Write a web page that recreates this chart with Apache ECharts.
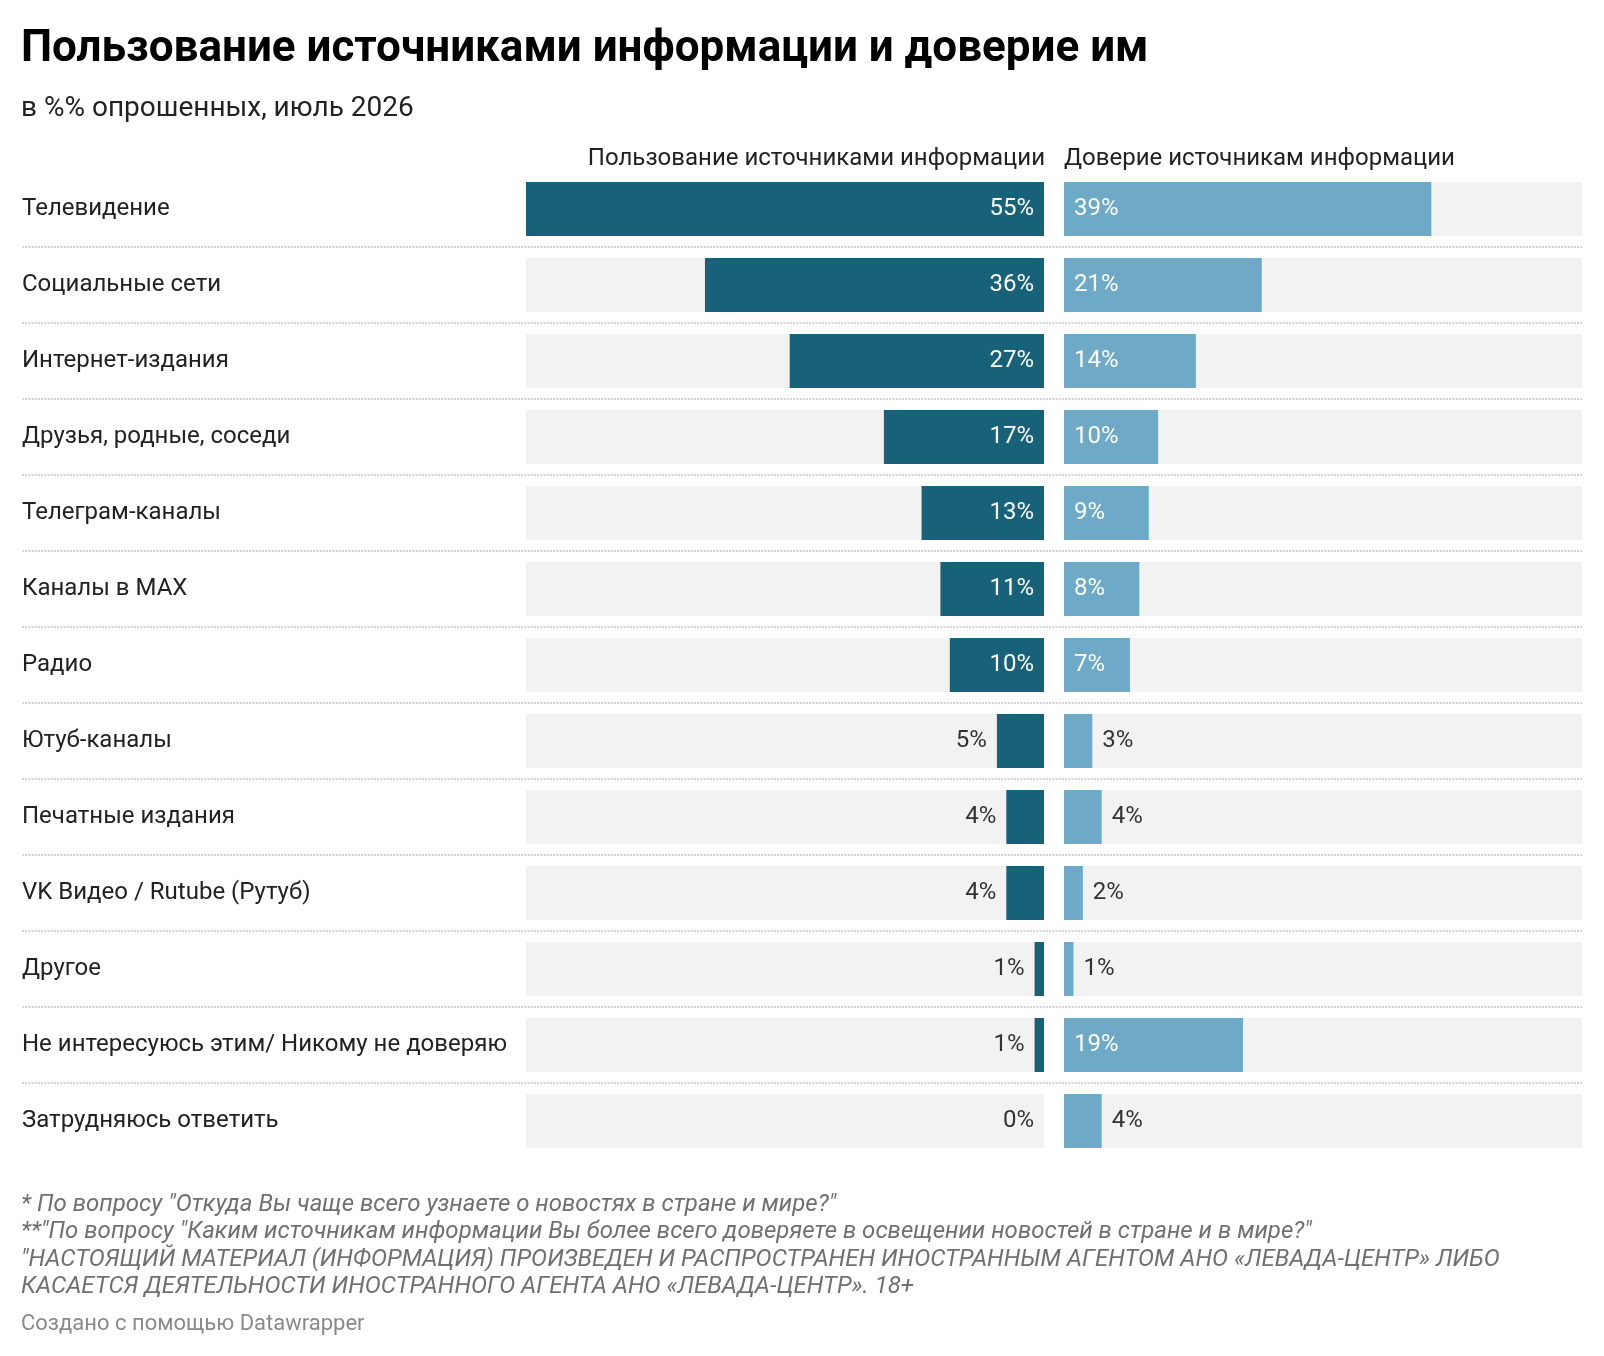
<!DOCTYPE html>
<html>
<head>
    <meta charset="utf-8">
    <title>ECharts</title>
    <script src="https://cdn.jsdelivr.net/npm/echarts@6.0.0/dist/echarts.min.js"></script>
    <style>
        html, body { margin: 0; padding: 0; background: #ffffff; }
    </style>
</head>
<body>
    <div id="main" style="width: 1604px;height:1356px;"></div>
    <script type="text/javascript">
        // категории и значения
        var categories = ['Телевидение', 'Социальные сети', 'Интернет-издания', 'Друзья, родные, соседи', 'Телеграм-каналы', 'Каналы в MAX', 'Радио', 'Ютуб-каналы', 'Печатные издания', 'VK Видео / Rutube (Рутуб)', 'Другое', 'Не интересуюсь этим/ Никому не доверяю', 'Затрудняюсь ответить'];
        var usage = [55, 36, 27, 17, 13, 11, 10, 5, 4, 4, 1, 1, 0];
        var trust = [39, 21, 14, 10, 9, 8, 7, 3, 4, 2, 1, 19, 4];
        var seriesNames = ['Пользование источниками информации', 'Доверие источникам информации'];
        var footnotes = [
            '* По вопросу "Откуда Вы чаще всего узнаете о новостях в стране и мире?"',
            '**"По вопросу "Каким источникам информации Вы более всего доверяете в освещении новостей в стране и в мире?"',
            '"НАСТОЯЩИЙ МАТЕРИАЛ (ИНФОРМАЦИЯ) ПРОИЗВЕДЕН И РАСПРОСТРАНЕН ИНОСТРАННЫМ АГЕНТОМ АНО «ЛЕВАДА-ЦЕНТР» ЛИБО',
            'КАСАЕТСЯ ДЕЯТЕЛЬНОСТИ ИНОСТРАННОГО АГЕНТА АНО «ЛЕВАДА-ЦЕНТР». 18+'
        ];

        var font = 'Roboto';
        var axisMax = 55;

        // подпись внутри длинных столбиков, снаружи у коротких
        function buildData(values, insidePos, outsidePos) {
            var out = [];
            for (var i = 0; i < values.length; i++) {
                var inside = values[i] >= 7;
                out.push({
                    value: values[i],
                    label: {
                        position: inside ? insidePos : outsidePos,
                        distance: 10,
                        color: inside ? '#ffffff' : '#333333'
                    }
                });
            }
            return out;
        }

        var myChart = echarts.init(document.getElementById('main'));

        var labelBase = {
            show: true,
            formatter: '{c}%',
            fontFamily: font,
            fontSize: 24
        };

        var option = {
            animation: false,
            backgroundColor: '#ffffff',
            title: [
                {
                    text: 'Пользование источниками информации и доверие им',
                    left: 21, top: 28, padding: 0,
                    textStyle: { fontFamily: font, fontSize: 44, fontWeight: 'bold', color: '#000000', lineHeight: 44 }
                },
                {
                    text: 'в %% опрошенных, июль 2026',
                    left: 21, top: 95, padding: 0,
                    textStyle: { fontFamily: font, fontSize: 28, fontWeight: 'normal', color: '#222222', lineHeight: 28 }
                },
                {
                    text: seriesNames[0],
                    right: 559, top: 147, padding: 0,
                    textStyle: { fontFamily: font, fontSize: 24, fontWeight: 'normal', color: '#222222', lineHeight: 24 }
                },
                {
                    text: seriesNames[1],
                    left: 1064, top: 147, padding: 0,
                    textStyle: { fontFamily: font, fontSize: 24, fontWeight: 'normal', color: '#222222', lineHeight: 24 }
                },
                {
                    text: footnotes.join('\n'),
                    left: 21, top: 1191, padding: 0,
                    textStyle: { fontFamily: font, fontSize: 24, fontStyle: 'italic', fontWeight: 'normal', color: '#707070', lineHeight: 27.5 }
                },
                {
                    text: 'Создано с помощью Datawrapper',
                    left: 21, top: 1311, padding: 0,
                    textStyle: { fontFamily: font, fontSize: 22, fontWeight: 'normal', color: '#8a8a8a', lineHeight: 26 }
                }
            ],
            grid: [
                { left: 526, width: 518, top: 171, height: 988 },
                { left: 1064, width: 518, top: 171, height: 988 },
                { left: 22, right: 22, top: 247, height: 836 }
            ],
            xAxis: [
                { gridIndex: 0, type: 'value', inverse: true, min: 0, max: axisMax, show: false },
                { gridIndex: 1, type: 'value', min: 0, max: axisMax, show: false },
                { gridIndex: 2, type: 'value', min: 0, max: 1, show: false }
            ],
            yAxis: [
                {
                    gridIndex: 0, type: 'category', inverse: true, data: categories,
                    axisLine: { show: false, onZero: false },
                    axisTick: { show: false },
                    splitLine: { show: false },
                    axisLabel: { align: 'left', margin: 504, fontFamily: font, fontSize: 24, color: '#222222' }
                },
                {
                    gridIndex: 1, type: 'category', inverse: true, data: categories,
                    axisLine: { show: false, onZero: false },
                    axisTick: { show: false },
                    axisLabel: { show: false },
                    splitLine: { show: false }
                },
                {
                    // пунктирные разделители строк
                    gridIndex: 2, type: 'value', min: 0, max: categories.length - 2, interval: 1,
                    axisLine: { show: false },
                    axisTick: { show: false },
                    axisLabel: { show: false },
                    splitLine: { show: true, lineStyle: { color: '#cfcfcf', width: 2, type: [1.8, 1.4] } }
                }
            ],
            series: [
                {
                    name: seriesNames[0],
                    type: 'bar',
                    xAxisIndex: 0, yAxisIndex: 0,
                    barWidth: 54,
                    showBackground: true,
                    backgroundStyle: { color: '#f2f2f2' },
                    itemStyle: { color: '#176179' },
                    label: labelBase,
                    data: buildData(usage, 'insideRight', 'left')
                },
                {
                    name: seriesNames[1],
                    type: 'bar',
                    xAxisIndex: 1, yAxisIndex: 1,
                    barWidth: 54,
                    showBackground: true,
                    backgroundStyle: { color: '#f2f2f2' },
                    itemStyle: { color: '#6eaac8' },
                    label: labelBase,
                    data: buildData(trust, 'insideLeft', 'right')
                }
            ]
        };

        myChart.setOption(option);

        window.addEventListener("resize", function(){
            myChart.resize();
        })
    </script>
</body>
</html>
